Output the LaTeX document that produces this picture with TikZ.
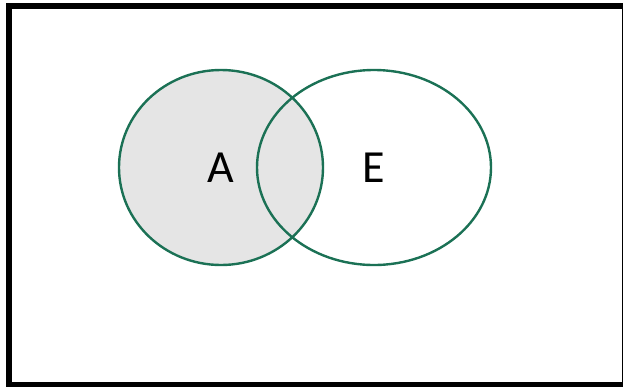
\documentclass[tikz,border=0pt]{standalone}
\usepackage{fontspec}
\setmainfont{Carlito}
\usetikzlibrary{positioning,shapes.geometric}
\definecolor{setgreen}{HTML}{1B7155}
\definecolor{setgray}{HTML}{E5E5E5}

\begin{document}
\begin{tikzpicture}[x=1pt,y=-1pt,
 frame/.style={line width=6pt,black},
 setA/.style={ellipse,draw=setgreen,line width=2.4pt,fill=setgray,font=\fontsize{46}{46}\selectfont,inner sep=0pt},
 setE/.style={setA,fill=none}]
\useasboundingbox (0,0) rectangle (623,386);
\draw[frame] (9,6) rectangle (624.5,385);
\node[setA,minimum width=204pt,minimum height=195pt] (A) at (221,167.5) {A};
\node[setE,minimum width=234pt,minimum height=195pt] (E) at (374,167.5) {E};
\end{tikzpicture}
\end{document}
